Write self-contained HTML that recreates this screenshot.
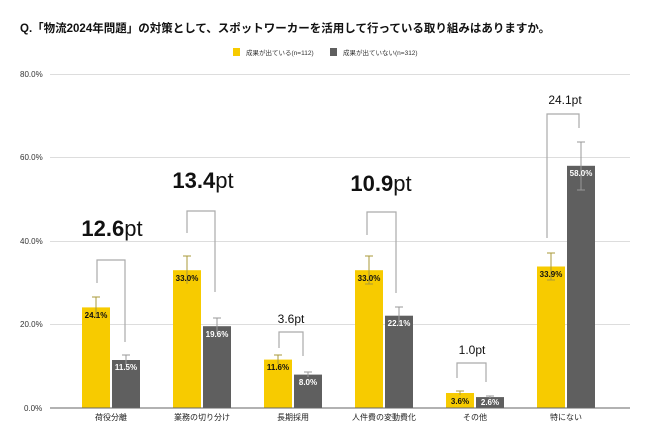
<!DOCTYPE html>
<html><head><meta charset="utf-8"><style>
body{margin:0;background:#fff}
svg{display:block}
text{font-family:"Liberation Sans","Noto Sans CJK JP",sans-serif}
</style></head><body>
<svg width="650" height="443" viewBox="0 0 650 443" xmlns="http://www.w3.org/2000/svg">
<text x="20" y="32" font-size="11.5" font-weight="bold" fill="#111">Q.「物流2024年問題」の対策として、スポットワーカーを活用して行っている取り組みはありますか。</text>
<rect x="233" y="48" width="7" height="8" fill="#f7cb00"/>
<text x="246" y="55" font-size="6.5" fill="#333">成果が出ている(n=112)</text>
<rect x="330" y="48" width="7" height="8" fill="#5f5f5f"/>
<text x="343" y="55" font-size="6.5" fill="#333">成果が出ていない(n=312)</text>
<g stroke="#ddd" stroke-width="1">
<line x1="50" y1="74.5" x2="630" y2="74.5"/>
<line x1="50" y1="157.5" x2="630" y2="157.5"/>
<line x1="50" y1="241.5" x2="630" y2="241.5"/>
<line x1="50" y1="324.5" x2="630" y2="324.5"/>
</g>
<g font-size="8" fill="#333">
<text x="20" y="77">80.0%</text><text x="20" y="160">60.0%</text>
<text x="20" y="244">40.0%</text><text x="20" y="327">20.0%</text>
<text x="24" y="411">0.0%</text>
</g>
<!-- bars -->
<g fill="#f7cb00">
<rect x="82" y="307.4" width="28" height="100.6"/>
<rect x="173" y="270.2" width="28" height="137.8"/>
<rect x="264" y="359.6" width="28" height="48.4"/>
<rect x="355" y="270.2" width="28" height="137.8"/>
<rect x="446" y="393" width="28" height="15"/>
<rect x="537" y="266.5" width="28" height="141.5"/>
</g>
<g fill="#5f5f5f">
<rect x="112" y="360" width="28" height="48"/>
<rect x="203" y="326.2" width="28" height="81.8"/>
<rect x="294" y="374.6" width="28" height="33.4"/>
<rect x="385" y="315.7" width="28" height="92.3"/>
<rect x="476" y="397.1" width="28" height="10.9"/>
<rect x="567" y="165.8" width="28" height="242.2"/>
</g>
<line x1="50" y1="408" x2="630" y2="408" stroke="#666" stroke-width="1"/>
<!-- error bars -->
<g stroke="#a89a3a" stroke-width="1" fill="none">
<path d="M96 297v21M92 297h8"/>
<path d="M187 256v28M183 256h8"/>
<path d="M278 355v9M274 355h8"/>
<path d="M369 256v28M365 256h8M365 284h8"/>
<path d="M460 391v4M456 391h8"/>
<path d="M551 253v27M547 253h8M547 280h8"/>
</g>
<g stroke="#999" stroke-width="1" fill="none">
<path d="M126 355v10M122 355h8"/>
<path d="M217 318v16M213 318h8"/>
<path d="M308 372v5M304 372h8"/>
<path d="M399 307v18M395 307h8"/>
<path d="M490 396v2M486 396h8"/>
<path d="M581 142v48M577 142h8M577 190h8"/>
</g>
<!-- value labels -->
<g font-size="8" font-weight="bold" text-anchor="middle" fill="#111">
<text x="96" y="318">24.1%</text><text x="187" y="281">33.0%</text>
<text x="278" y="370">11.6%</text><text x="369" y="281">33.0%</text>
<text x="460" y="404">3.6%</text><text x="551" y="277">33.9%</text>
</g>
<g font-size="8" font-weight="bold" text-anchor="middle" fill="#fff">
<text x="126" y="370">11.5%</text><text x="217" y="337">19.6%</text>
<text x="308" y="385">8.0%</text><text x="399" y="326">22.1%</text>
<text x="490" y="405">2.6%</text><text x="581" y="176">58.0%</text>
</g>
<!-- categories -->
<g font-size="8" text-anchor="middle" fill="#222">
<text x="111" y="420">荷役分離</text><text x="202" y="420">業務の切り分け</text>
<text x="293" y="420">長期採用</text><text x="384" y="420">人件費の変動費化</text>
<text x="475" y="420">その他</text><text x="566" y="420">特にない</text>
</g>
<!-- brackets -->
<g stroke="#aaa" stroke-width="1.2" fill="none">
<path d="M97 283V260H125V342"/>
<path d="M187 233V211H215V292"/>
<path d="M279 348V332H303V356"/>
<path d="M367 235V212H396V293"/>
<path d="M457 378V363H486V382"/>
<path d="M547 238V114H579V128"/>
</g>
<g fill="#111" text-anchor="middle">
<text x="112" y="236" font-size="22"><tspan font-weight="bold">12.6</tspan>pt</text>
<text x="203" y="188" font-size="22"><tspan font-weight="bold">13.4</tspan>pt</text>
<text x="381" y="191" font-size="22"><tspan font-weight="bold">10.9</tspan>pt</text>
<text x="291" y="323" font-size="12">3.6pt</text>
<text x="472" y="354" font-size="12">1.0pt</text>
<text x="565" y="104" font-size="12">24.1pt</text>
</g>
</svg>
</body></html>
